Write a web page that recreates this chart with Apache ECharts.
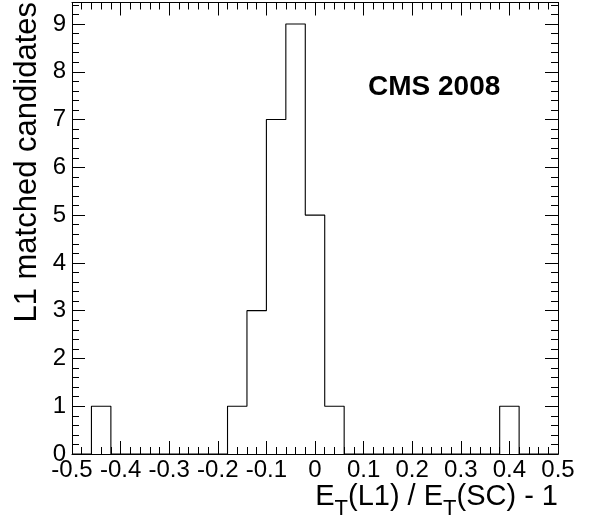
<!DOCTYPE html>
<html>
<head>
<meta charset="utf-8">
<script src="https://cdn.jsdelivr.net/npm/echarts@6/dist/echarts.min.js"></script>
<style>
html,body{margin:0;padding:0;background:#fff;}
#c{width:598px;height:525px;}
</style>
</head>
<body>
<div id="c"></div>
<script>
// Histogram bin edges (x) and counts per bin
const binEdges = [-0.50,-0.46,-0.42,-0.38,-0.34,-0.30,-0.26,-0.22,-0.18,-0.14,-0.10,-0.06,-0.02,
                  0.02,0.06,0.10,0.14,0.18,0.22,0.26,0.30,0.34,0.38,0.42,0.46,0.50];
const counts   = [0,1,0,0,0,0,0,0,1,3,7,9,5,1,0,0,0,0,0,0,0,0,1,0,0];
const xTicks = {min:-0.5, max:0.5, interval:0.1};
const yTicks = {min:0, max:9.45, interval:1, minorInterval:0.2};
const xTitle = 'E{sub|T}(L1) / E{sub|T}(SC) - 1';
const yTitle = 'L1 matched candidates';
const stampText = 'CMS 2008';

const FONT = '"Liberation Sans", Arial, Helvetica, sans-serif';

// Build step outline from bins
const stepData = [[binEdges[0], 0]];
for (let i = 0; i < counts.length; i++) {
  stepData.push([binEdges[i], counts[i]]);
  stepData.push([binEdges[i+1], counts[i]]);
}
stepData.push([binEdges[binEdges.length-1], 0]);

const black = {color:'#000', width:1};

function xAxisCfg(pos, showLabel){
  return {
    type:'value', position:pos, min:xTicks.min, max:xTicks.max, interval:xTicks.interval,
    axisLine:{show:true, onZero:false, lineStyle:black},
    axisTick:{show:true, inside:true, length:13, lineStyle:black},
    minorTick:{show:true, splitNumber:5, length:7, lineStyle:black},
    splitLine:{show:false}, minorSplitLine:{show:false},
    axisLabel:{show:showLabel, fontSize:24, fontFamily:FONT, color:'#000', margin:4,
      formatter: v => (Math.abs(v) < 1e-9 ? '0' : String(+v.toFixed(1)))}
  };
}
function yAxisCfg(pos, showLabel, major){
  return {
    type:'value', position:pos, min:yTicks.min, max:yTicks.max,
    interval: major ? yTicks.interval : yTicks.minorInterval,
    axisLine:{show:true, onZero:false, lineStyle:black},
    axisTick:{show:true, inside:true, length: major ? 13 : 7, lineStyle:black},
    splitLine:{show:false},
    axisLabel:{show:showLabel, fontSize:24, fontFamily:FONT, color:'#000', margin:6,
      formatter: v => (Math.abs(v - Math.round(v)) < 1e-6 ? String(Math.round(v)) : '')}
  };
}

const chart = echarts.init(document.getElementById('c'), null, {renderer:'canvas'});
chart.setOption({
  backgroundColor:'#fff',
  animation:false,
  grid:{left:72, right:40, top:2.5, bottom:71, containLabel:false, outerBoundsMode:'none'},
  xAxis:[xAxisCfg('bottom', true), xAxisCfg('top', false)],
  yAxis:[yAxisCfg('left', true, true), yAxisCfg('left', false, false),
         yAxisCfg('right', false, true), yAxisCfg('right', false, false)],
  series:[{
    type:'line', xAxisIndex:0, yAxisIndex:0, data:stepData, symbol:'none',
    lineStyle:{color:'#000', width:1.1}, clip:false, silent:true
  }],
  graphic:[
    {type:'text', x:368, y:87.5, style:{text:stampText, font:'bold 28px ' + FONT, fill:'#000',
      textAlign:'left', textVerticalAlign:'middle'}},
    {type:'text', x:558, y:496.5, style:{text:xTitle, fill:'#000', textAlign:'right', textVerticalAlign:'middle',
      font:'29px ' + FONT,
      rich:{sub:{fontSize:22, fontFamily:FONT, fill:'#000', padding:[25,0,0,0]}}}},
    {type:'text', x:27, y:2, rotation:Math.PI/2, style:{text:yTitle, font:'31px ' + FONT, fill:'#000',
      textAlign:'right', textVerticalAlign:'middle'}}
  ]
});
</script>
</body>
</html>
